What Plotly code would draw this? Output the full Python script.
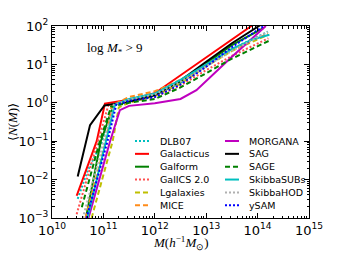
import plotly.graph_objects as go

# log10 halo mass nodes and log10 <N(M)>
models = ["DLB07", "Galacticus", "Galform", "GalICS 2.0", "Lgalaxies", "MICE",
          "MORGANA", "SAG", "SAGE", "SkibbaSUBs", "SkibbaHOD", "ySAM"]

logM_DLB07 = [10.50, 10.70, 10.98, 11.20, 11.50, 12.00, 12.50, 13.00, 13.50, 14.20]
logN_DLB07 = [-2.50, -1.75, -1.00, -0.05, 0.06, 0.20, 0.52, 0.97, 1.40, 1.85]

logM_Galacticus = [10.48, 10.87, 11.03, 11.50, 12.00, 12.50, 13.00, 13.50, 13.90]
logN_Galacticus = [-2.42, -1.00, -0.02, 0.08, 0.25, 0.72, 1.19, 1.65, 2.02]

logM_Galform = [10.66, 10.95, 11.20, 11.50, 12.00, 12.50, 13.00, 13.50, 14.12]
logN_Galform = [-3.00, -1.00, -0.05, 0.05, 0.20, 0.55, 1.02, 1.50, 1.95]

logM_GalICS = [10.48, 10.89, 11.10, 11.50, 12.00, 12.50, 13.00, 13.50, 14.21]
logN_GalICS = [-2.90, -1.00, -0.05, 0.05, 0.15, 0.45, 0.85, 1.22, 1.68]

logM_Lgalaxies = [10.77, 11.18, 11.30, 11.50, 12.00, 12.50, 13.00, 13.50, 14.20]
logN_Lgalaxies = [-3.00, -1.00, -0.12, 0.00, 0.18, 0.50, 0.95, 1.35, 1.77]

logM_MICE = [10.65, 11.05, 11.16, 11.50, 12.00, 12.50, 13.00, 13.50, 14.20]
logN_MICE = [-3.00, -1.00, -0.07, 0.15, 0.30, 0.60, 1.00, 1.40, 1.80]

logM_MORGANA = [10.71, 11.13, 11.32, 11.50, 12.00, 12.50, 12.81, 13.50, 14.16]
logN_MORGANA = [-3.00, -1.00, -0.19, -0.08, -0.01, 0.10, 0.33, 1.20, 2.00]

logM_SAG = [10.50, 10.74, 11.02, 11.50, 12.00, 12.50, 13.00, 13.50, 14.05]
logN_SAG = [-1.92, -0.58, -0.07, 0.03, 0.20, 0.58, 1.07, 1.55, 2.02]

logM_SAGE = [10.58, 10.93, 11.15, 11.50, 12.00, 12.50, 13.00, 13.50, 14.23]
logN_SAGE = [-2.72, -1.00, -0.10, 0.00, 0.10, 0.40, 0.77, 1.15, 1.62]

logM_SkibbaSUBs = [10.69, 11.05, 11.22, 11.50, 12.00, 12.50, 13.00, 13.50, 13.90, 14.23]
logN_SkibbaSUBs = [-3.00, -1.00, -0.05, 0.10, 0.24, 0.60, 0.99, 1.40, 1.65, 1.77]

logM_SkibbaHOD = [10.60, 11.00, 11.20, 11.50, 12.00, 12.50, 13.00, 13.50, 14.20]
logN_SkibbaHOD = [-3.00, -1.00, -0.05, 0.08, 0.22, 0.55, 0.95, 1.35, 1.85]

logM_ySAM = [10.67, 11.08, 11.25, 11.50, 12.00, 12.50, 13.00, 13.50, 14.12]
logN_ySAM = [-3.00, -1.00, -0.05, 0.05, 0.15, 0.48, 0.94, 1.45, 2.00]

x_tick_exps = [10, 11, 12, 13, 14, 15]
y_tick_exps = [-3, -2, -1, 0, 1, 2]

data = {
    "DLB07": (logM_DLB07, logN_DLB07),
    "Galacticus": (logM_Galacticus, logN_Galacticus),
    "Galform": (logM_Galform, logN_Galform),
    "GalICS 2.0": (logM_GalICS, logN_GalICS),
    "Lgalaxies": (logM_Lgalaxies, logN_Lgalaxies),
    "MICE": (logM_MICE, logN_MICE),
    "MORGANA": (logM_MORGANA, logN_MORGANA),
    "SAG": (logM_SAG, logN_SAG),
    "SAGE": (logM_SAGE, logN_SAGE),
    "SkibbaSUBs": (logM_SkibbaSUBs, logN_SkibbaSUBs),
    "SkibbaHOD": (logM_SkibbaHOD, logN_SkibbaHOD),
    "ySAM": (logM_ySAM, logN_ySAM),
}

DASHED = "5px,3px"
DOTTED = "2px,2px"
styles = {
    "DLB07": ("#00bfbf", DOTTED),
    "Galacticus": ("#ff0000", "solid"),
    "Galform": ("#008000", "solid"),
    "GalICS 2.0": ("#ff5050", DOTTED),
    "Lgalaxies": ("#bfbf00", DASHED),
    "MICE": ("#ff8c1a", DASHED),
    "MORGANA": ("#bf00bf", "solid"),
    "SAG": ("#000000", "solid"),
    "SAGE": ("#008000", DASHED),
    "SkibbaSUBs": ("#00bfbf", "solid"),
    "SkibbaHOD": ("#b0b0b0", DOTTED),
    "ySAM": ("#0000ff", DOTTED),
}

# page body has an 8px default margin; figure is sized so the plot area
# lands at screen x 52..309, y 26..218
OFF = 8
W, H = 344 - OFF, 258 - OFF
L, T = 52 - OFF, 26 - OFF
R = W - (309 - OFF)
B = H - (218 - OFF)
pw, ph = W - L - R, H - T - B

fig = go.Figure()
for name in models:
    lm, ln = data[name]
    col, dash = styles[name]
    fig.add_trace(go.Scatter(
        x=[10 ** v for v in lm], y=[10 ** v for v in ln], mode="lines", name=name,
        line=dict(color=col, width=2, dash=dash), showlegend=False,
    ))


def px_x(sx):
    return (sx - OFF - L) / pw


def px_y(sy):
    return (H - B - (sy - OFF)) / ph


# legend drawn as two columns (column-major, like the reference)
shapes = []
annotations = []
row0, row_step = 141.0, 12.85
for i, name in enumerate(models):
    col_i, row_i = divmod(i, 6)
    sy = row0 + row_i * row_step
    x0s, x1s, txs = (135, 149, 158) if col_i == 0 else (225, 239, 247)
    col, dash = styles[name]
    yp = px_y(sy)
    shapes.append(dict(type="line", xref="paper", yref="paper",
                       x0=px_x(x0s), x1=px_x(x1s), y0=yp, y1=yp,
                       line=dict(color=col, width=2, dash=dash)))
    annotations.append(dict(text=name, xref="paper", yref="paper",
                            x=px_x(txs), y=yp, xanchor="left", yanchor="middle",
                            showarrow=False,
                            font=dict(family="DejaVu Sans", size=9.5, color="black")))

serif = dict(family="Liberation Serif", size=13, color="black")
annotations.append(dict(text="log <i>M</i><sub>*</sub> > 9", xref="paper", yref="paper",
                        x=px_x(85), y=px_y(48), xanchor="left", yanchor="middle",
                        showarrow=False, font=serif))
# axis titles
annotations.append(dict(text="<i>M</i>(<i>h</i><sup>−1</sup><i>M</i><sub>⊙</sub>)",
                        xref="paper", yref="paper", x=px_x(181), y=px_y(243),
                        xanchor="center", yanchor="middle", showarrow=False, font=serif))
annotations.append(dict(text="⟨<i>N</i>(<i>M</i>)⟩", textangle=-90,
                        xref="paper", yref="paper", x=px_x(12), y=px_y(122),
                        xanchor="center", yanchor="middle", showarrow=False, font=serif))


def pow_label(e):
    s = str(e).replace("-", "−")
    return "10<sup>" + s + "</sup>"


axis_common = dict(
    type="log", showgrid=False, zeroline=False, showline=True, linecolor="black",
    linewidth=1, mirror="allticks", ticks="inside", ticklen=5, tickcolor="black",
    automargin=False,
    tickfont=dict(family="DejaVu Sans", size=13, color="black"),
    minor=dict(ticks="inside", ticklen=2.5, dtick="D1", tickcolor="black", showgrid=False),
)

fig.update_layout(
    width=W, height=H, margin=dict(l=L, r=R, t=T, b=B),
    paper_bgcolor="white", plot_bgcolor="white",
    xaxis=dict(axis_common, range=[10, 15],
               tickmode="array", tickvals=[10.0 ** e for e in x_tick_exps],
               ticktext=[pow_label(e) for e in x_tick_exps]),
    yaxis=dict(axis_common, range=[-3, 2],
               tickmode="array", tickvals=[10.0 ** e for e in y_tick_exps],
               ticktext=[pow_label(e) for e in y_tick_exps]),
    shapes=shapes,
    annotations=annotations,
    showlegend=False,
)

fig.write_html("out.html")
